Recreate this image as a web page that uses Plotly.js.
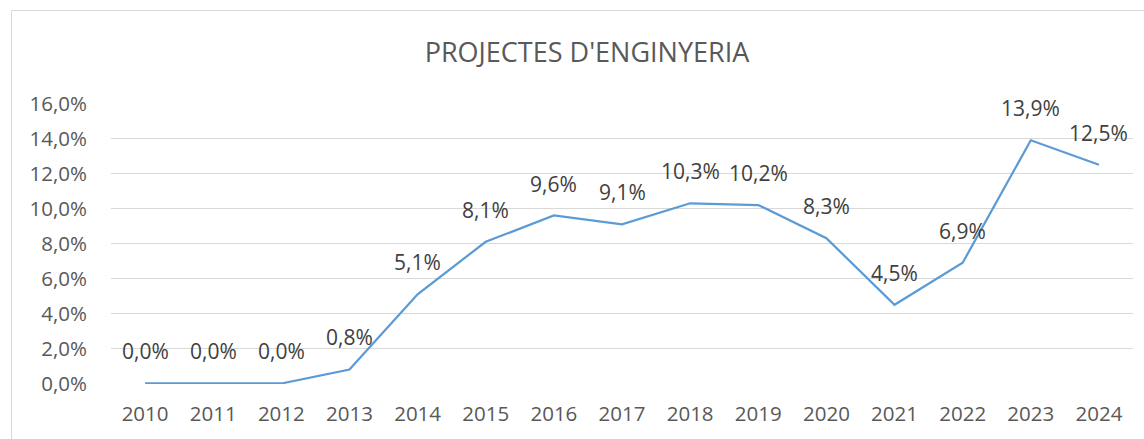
<!DOCTYPE html>
<html>
<head>
<meta charset="utf-8">
<script src="https://cdn.plot.ly/plotly-3.0.1.min.js"></script>
<style>
  html, body { margin: 0; padding: 0; background: #fff; overflow: hidden; }
  #chart { width: 1144px; height: 439px; position: absolute; left: 0; top: 0; }
  #frame { position: absolute; left: 11px; top: 10px; width: 1200px; height: 500px; border: 1.5px solid #d9d9d9; pointer-events: none; }
</style>
</head>
<body>
<div id="chart"></div>
<div id="frame"></div>
<script>
const years = ["2010","2011","2012","2013","2014","2015","2016","2017","2018","2019","2020","2021","2022","2023","2024"];
const values = [0.0, 0.0, 0.0, 0.8, 5.1, 8.1, 9.6, 9.1, 10.3, 10.2, 8.3, 4.5, 6.9, 13.9, 12.5];
const yTicks = [0, 2, 4, 6, 8, 10, 12, 14, 16];
const chartTitle = "PROJECTES D'ENGINYERIA";

const fmt = v => v.toFixed(1).replace('.', ',') + '%';
const FONT = 'Open Sans, Noto Sans, sans-serif';

const trace = {
  type: 'scatter',
  mode: 'lines',
  x: years,
  y: values,
  line: { color: '#5B9BD5', width: 2.25 },
  hoverinfo: 'skip'
};

// category axis: annotation x given as category index
const annotations = years.map((yr, i) => ({
  x: i, y: values[i], xref: 'x', yref: 'y',
  text: fmt(values[i]), showarrow: false,
  yshift: 32,
  font: { family: FONT, size: 21, color: '#404040' }
}));

const layout = {
  width: 1144, height: 439,
  margin: { l: 111, r: 11, t: 103, b: 55 },
  paper_bgcolor: '#ffffff', plot_bgcolor: '#ffffff',
  showlegend: false,
  title: {
    text: chartTitle,
    x: 587/1144, xanchor: 'center', xref: 'container',
    y: 1 - 53/439, yanchor: 'middle', yref: 'container',
    font: { family: FONT, size: 27, color: '#595959' }
  },
  xaxis: {
    type: 'category',
    range: [-0.5, years.length - 0.5],
    showgrid: false, zeroline: false,
    showline: false, ticks: '',
    ticklabelstandoff: 15,
    tickfont: { family: FONT, size: 20.5, color: '#595959' },
    fixedrange: true
  },
  yaxis: {
    range: [-0.03, 16.03],
    tickvals: yTicks,
    ticktext: yTicks.map(fmt),
    showgrid: true, gridcolor: '#d9d9d9', gridwidth: 1.5,
    zeroline: false, showline: false, ticks: '',
    ticklabelstandoff: 23,
    tickfont: { family: FONT, size: 20.5, color: '#595959' },
    fixedrange: true
  },
  annotations: annotations
};

Plotly.newPlot('chart', [trace], layout, { staticPlot: true, displayModeBar: false });
</script>
</body>
</html>
